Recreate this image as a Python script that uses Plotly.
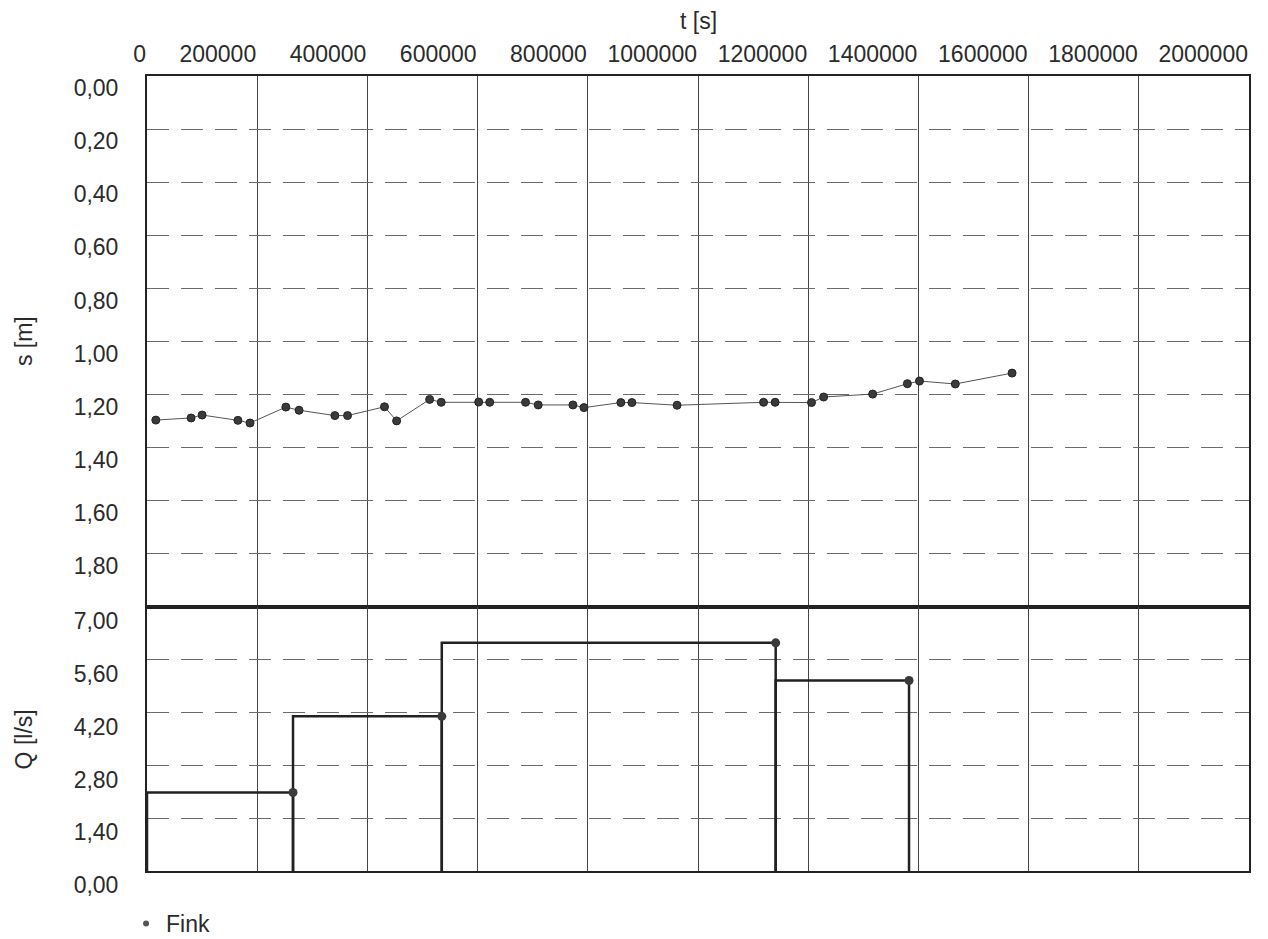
import plotly.graph_objects as go

# Drawdown measurements (well "Fink")
t_s = [16000, 80000, 100000, 165000, 187000, 252000, 276000, 341000, 364000,
       431000, 453000, 513000, 534000, 602000, 622000, 687000, 710000, 773000,
       793000, 860000, 880000, 962000, 1119000, 1140000, 1206000, 1228000,
       1317000, 1380000, 1402000, 1467000, 1570000]
s_m = [1.296, 1.288, 1.277, 1.297, 1.307, 1.247, 1.259, 1.279, 1.279,
       1.246, 1.299, 1.218, 1.229, 1.228, 1.229, 1.229, 1.239, 1.239,
       1.249, 1.230, 1.230, 1.240, 1.229, 1.229, 1.230, 1.209,
       1.198, 1.159, 1.149, 1.160, 1.119]

# Pumping rate steps
q_start = [0, 265000, 535000, 1141000]
q_end = [265000, 535000, 1141000, 1383000]
q_ls = [2.08, 4.10, 6.05, 5.05]

# Axis ticks
t_ticks = list(range(0, 2000001, 200000))
s_ticks = [0.0, 0.2, 0.4, 0.6, 0.8, 1.0, 1.2, 1.4, 1.6, 1.8]
q_ticks = [0.0, 1.4, 2.8, 4.2, 5.6, 7.0]

FONT = "Liberation Sans, Arial, sans-serif"
TXT = "#2b2b2b"
FS = 23

fig = go.Figure()

# s(t) curve
fig.add_trace(go.Scatter(
    x=t_s, y=s_m, mode="lines+markers", xaxis="x", yaxis="y",
    line=dict(color="#555555", width=1),
    marker=dict(size=8, color="#3a3a3a", line=dict(color="#222222", width=1)),
    showlegend=False, name="s",
))

# Q(t) step outlines
qx, qy = [], []
for a, b, q in zip(q_start, q_end, q_ls):
    qx += [a, a, b, b, None]
    qy += [0, q, q, 0, None]
fig.add_trace(go.Scatter(
    x=qx, y=qy, mode="lines", xaxis="x2", yaxis="y2",
    line=dict(color="#222222", width=2.5), showlegend=False, name="Q",
))
fig.add_trace(go.Scatter(
    x=q_end, y=q_ls, mode="markers", xaxis="x2", yaxis="y2",
    marker=dict(size=9, color="#3a3a3a"), showlegend=False, name="Q end",
))

# legend key
fig.add_trace(go.Scatter(
    x=[None], y=[None], mode="markers", name="Fink",
    marker=dict(size=6, color="#555555"), showlegend=True,
))

split = (871 - 607) / 795

common_x = dict(
    range=[0, 2000000], tickvals=t_ticks,
    showgrid=True, gridcolor="#444444", gridwidth=1,
    showline=True, mirror=True, linecolor="#222222", linewidth=2,
    zeroline=False, ticks="",
)

common_y = dict(
    showgrid=True, gridcolor="#6a6a6a", gridwidth=1.2, griddash="22px,12px",
    showline=True, mirror=True, linecolor="#222222", linewidth=2,
    zeroline=False, ticks="",
    ticklabelposition="outside bottom", ticklabelstandoff=22,
)

fig.update_layout(
    width=1268, height=939,
    margin=dict(l=147, r=19, t=76, b=68, autoexpand=False),
    paper_bgcolor="white", plot_bgcolor="white",
    font=dict(family=FONT, size=FS, color=TXT),
    xaxis=dict(
        **common_x, anchor="y", side="top",
        ticktext=[str(v) for v in t_ticks],
        ticklabelposition="outside left", ticklabelstandoff=3,
        tickfont=dict(size=FS, color=TXT),
    ),
    xaxis2=dict(**common_x, anchor="y2", matches="x", showticklabels=False),
    yaxis=dict(
        **common_y, ticklabelshift=4,
        domain=[split, 1], range=[2.0, 0], anchor="x",
        tickvals=s_ticks, ticktext=[f"{v:.2f}".replace(".", ",") for v in s_ticks],
    ),
    yaxis2=dict(
        **common_y, ticklabelshift=-2,
        domain=[0, split], range=[0, 7.0], anchor="x2",
        tickvals=q_ticks, ticktext=[f"{v:.2f}".replace(".", ",") for v in q_ticks],
    ),
    legend=dict(
        x=-0.019, y=-0.066, xanchor="left", yanchor="middle",
        bgcolor="rgba(0,0,0,0)", font=dict(size=FS, color=TXT),
    ),
    annotations=[
        dict(text="t [s]", xref="paper", yref="paper", x=0.5, y=1.069,
             showarrow=False, xanchor="center", yanchor="middle",
             font=dict(size=FS, color=TXT)),
        dict(text="s [m]", xref="paper", yref="paper", x=-0.112, y=0.666,
             showarrow=False, textangle=-90, xanchor="center", yanchor="middle",
             font=dict(size=FS, color=TXT)),
        dict(text="Q [l/s]", xref="paper", yref="paper", x=-0.112, y=0.165,
             showarrow=False, textangle=-90, xanchor="center", yanchor="middle",
             font=dict(size=FS, color=TXT)),
    ],
)

fig.write_html("out.html")
